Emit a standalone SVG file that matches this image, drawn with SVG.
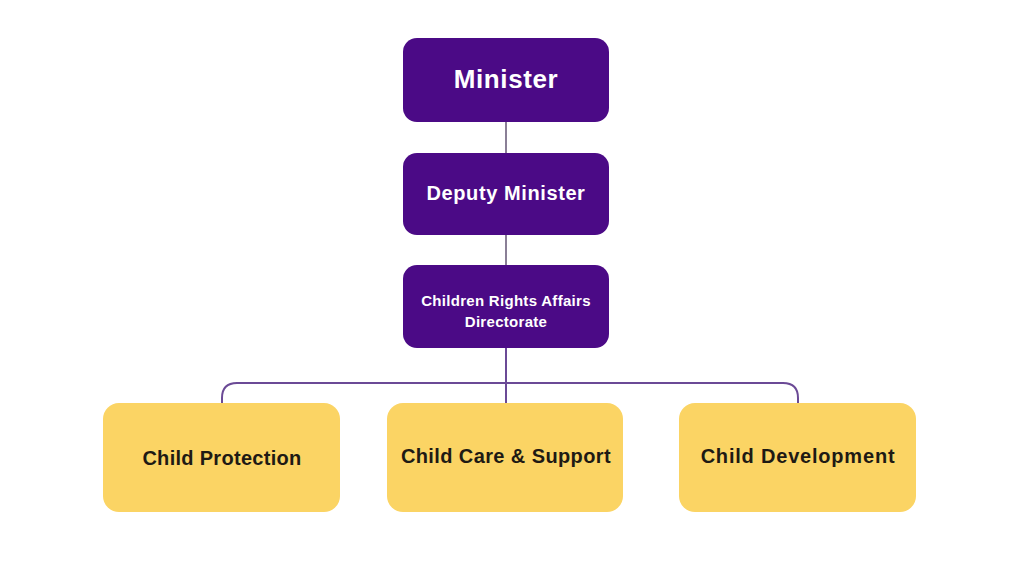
<svg xmlns="http://www.w3.org/2000/svg" width="1024" height="580" viewBox="0 0 1024 580">
<style>
.p{fill:#4b0a86;}
.y{fill:#fbd464;}
.tw{fill:#ffffff;font-family:"Liberation Sans",Arial,sans-serif;font-weight:bold;text-anchor:middle;}
.tb{fill:#1e1a14;font-family:"Liberation Sans",Arial,sans-serif;font-weight:bold;text-anchor:middle;font-size:20px;}
.c{fill:none;stroke-width:2;}
</style>
<rect width="1024" height="580" fill="#ffffff"/>
<g id="connectors">
<line class="c" x1="506" y1="122" x2="506" y2="153" stroke="#8a7f96"/>
<line class="c" x1="506" y1="235" x2="506" y2="265" stroke="#8a7f96"/>
<line class="c" x1="506" y1="348" x2="506" y2="403" stroke="#6b4a96"/>
<path class="c" d="M222,403 V398 Q222,383 237,383 H783 Q798,383 798,398 V403" stroke="#6b4a96"/>
</g>
<g id="minister">
<rect class="p" x="403" y="38" width="206" height="84" rx="14"/>
<text class="tw" x="506" y="88" font-size="26" letter-spacing="0.6">Minister</text>
</g>
<g id="deputy">
<rect class="p" x="403" y="153" width="206" height="82" rx="14"/>
<text class="tw" x="506" y="200" font-size="20" letter-spacing="0.6">Deputy Minister</text>
</g>
<g id="directorate">
<rect class="p" x="403" y="265" width="206" height="83" rx="14"/>
<text class="tw" x="506" y="306" font-size="15" letter-spacing="0.3">Children Rights Affairs</text>
<text class="tw" x="506" y="327" font-size="15" letter-spacing="0.3">Directorate</text>
</g>
<g id="protection">
<rect class="y" x="103" y="403" width="237" height="109" rx="16"/>
<text class="tb" x="222" y="465" letter-spacing="0.3">Child Protection</text>
</g>
<g id="care">
<rect class="y" x="387" y="403" width="236" height="109" rx="16"/>
<text class="tb" x="506" y="463" letter-spacing="0.4">Child Care &amp; Support</text>
</g>
<g id="development">
<rect class="y" x="679" y="403" width="237" height="109" rx="16"/>
<text class="tb" x="798" y="463" letter-spacing="0.8">Child Development</text>
</g>
</svg>
